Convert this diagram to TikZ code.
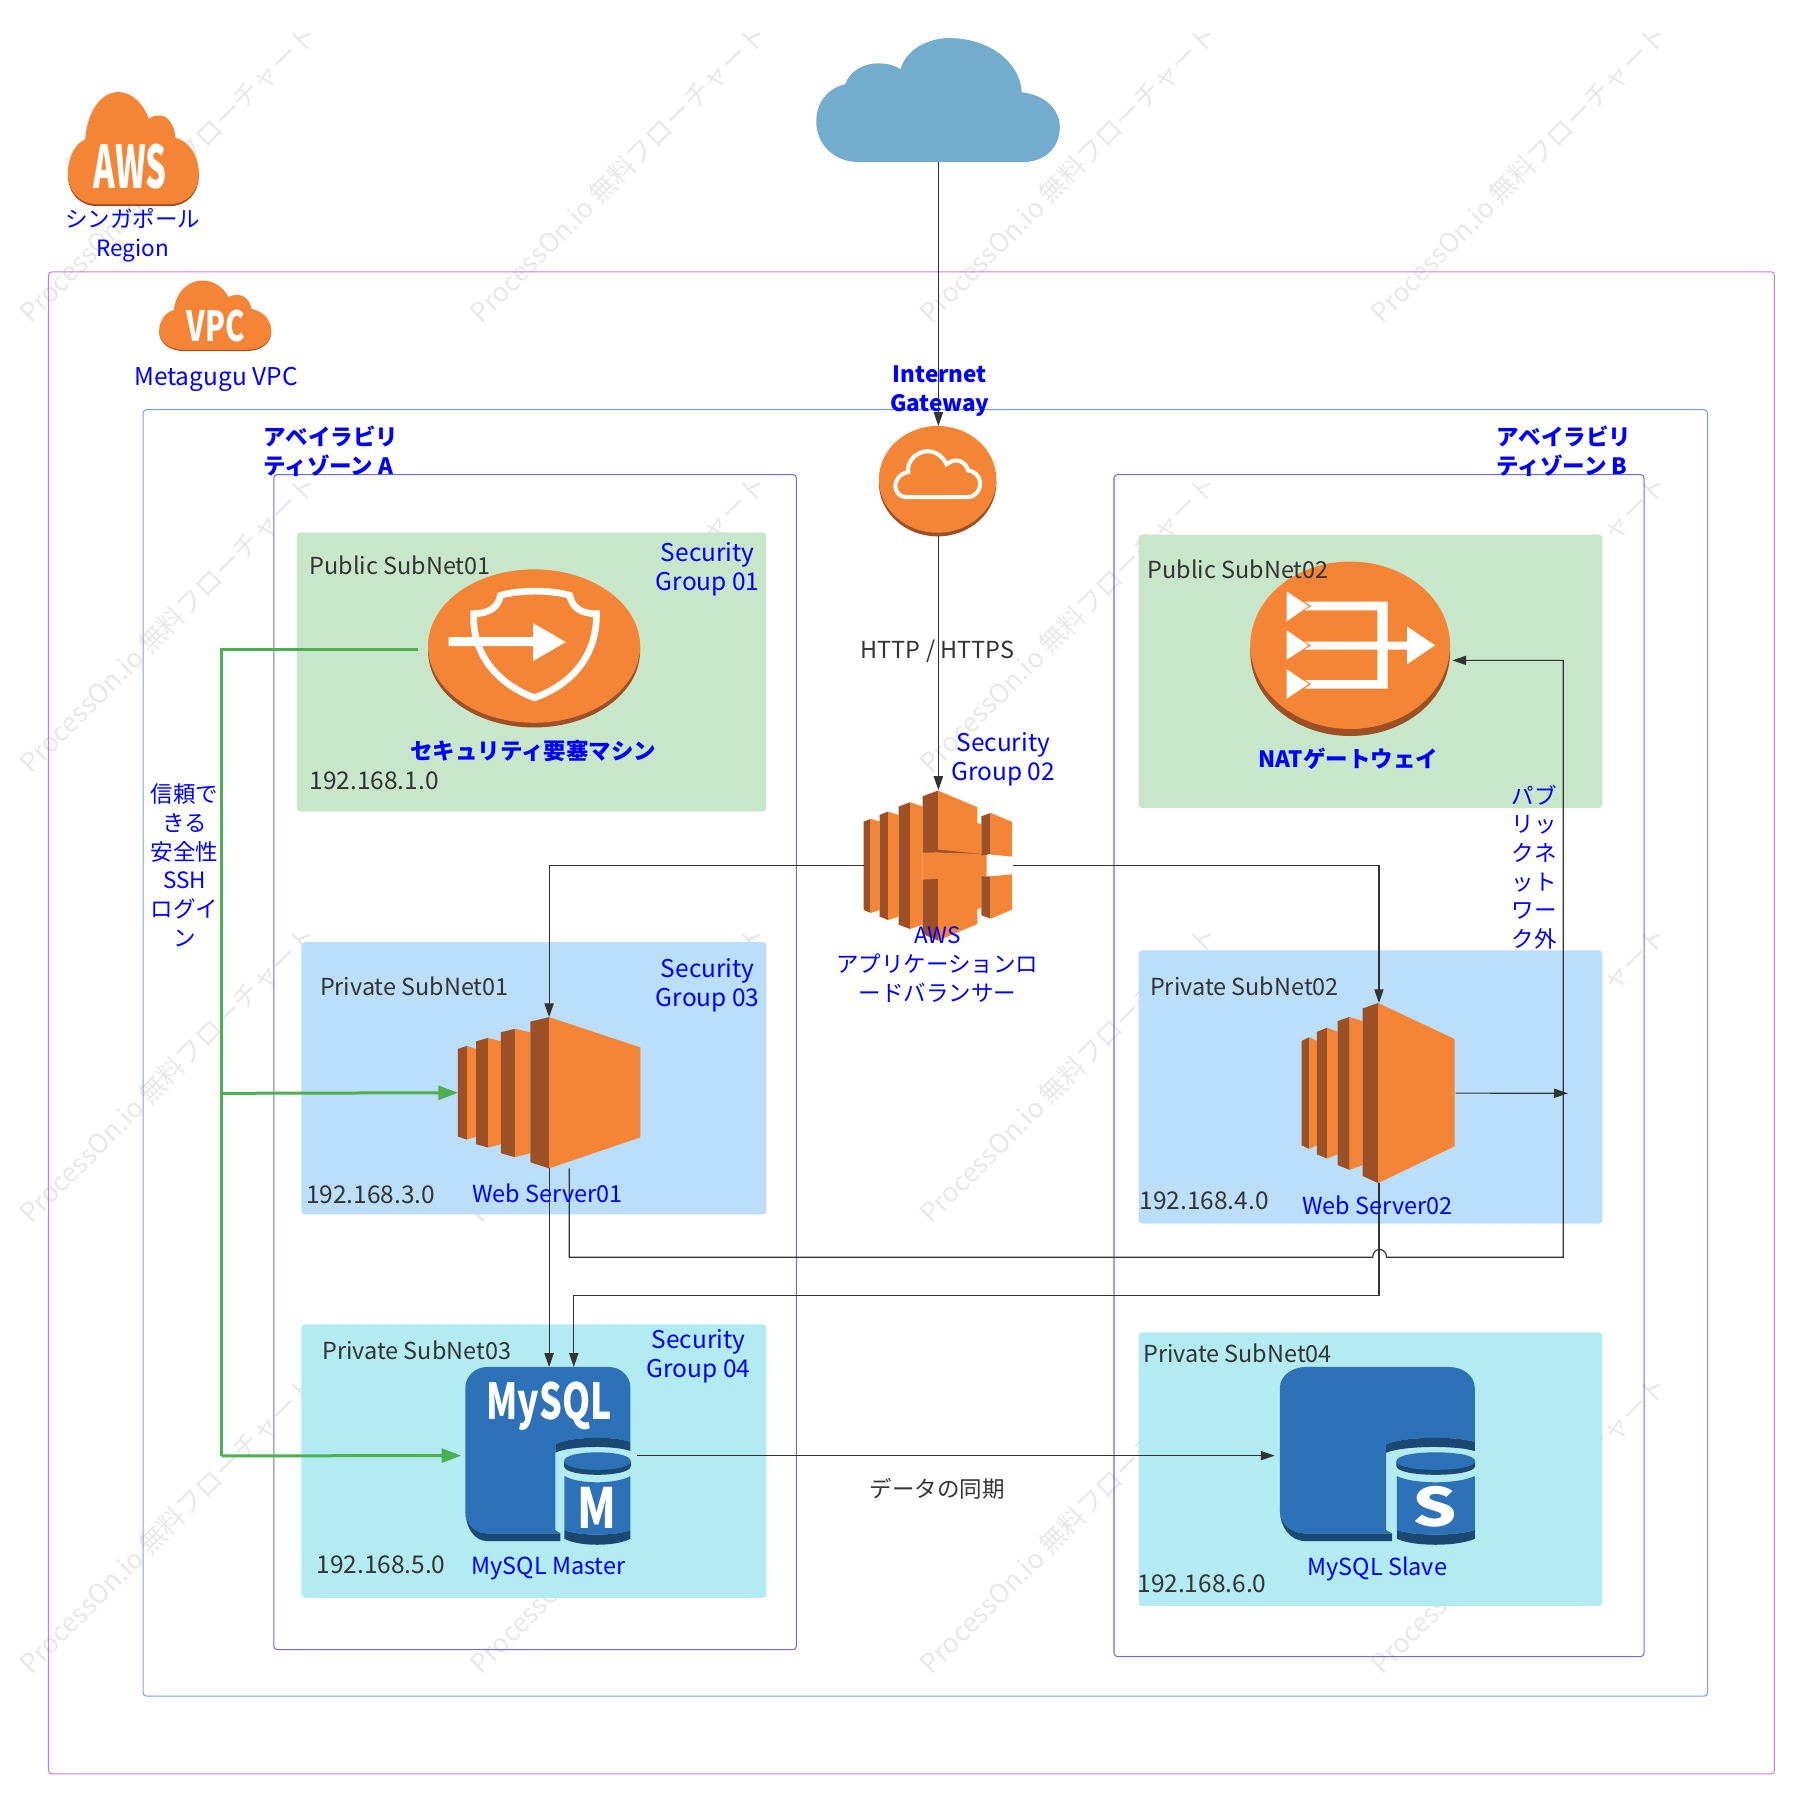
\documentclass[tikz,border=0pt]{standalone}
\usepackage{fontspec}
\usepackage{graphicx}
\setmainfont{Noto Sans CJK JP}
\usetikzlibrary{arrows.meta}

\definecolor{awsorange}{HTML}{F58536}
\definecolor{awsbrown}{HTML}{9D5025}
\definecolor{dbblue}{HTML}{2D72B8}
\definecolor{dbdark}{HTML}{1A4A73}
\definecolor{skyblue}{HTML}{74ACCE}
\definecolor{publicgreen}{HTML}{C8E6C9}
\definecolor{privateblue}{HTML}{BBDEFB}
\definecolor{privatecyan}{HTML}{B2EBF2}
\definecolor{inktext}{HTML}{333333}
\definecolor{trustgreen}{HTML}{4CAF50}
\definecolor{regionline}{HTML}{CB7BE0}
\definecolor{vpcline}{HTML}{7C9BE8}
\definecolor{zoneline}{HTML}{6C6CE8}

\tikzset{
  basefont/.style = {font=\fontsize{20.3}{24.8}\selectfont},
  widefont/.style = {font=\fontsize{21.2}{25.2}\selectfont},
  kanafont/.style = {font=\fontsize{19.5}{24.8}\selectfont},
  frame/.style = {rectangle, inner sep=0pt, outer sep=0pt, rounded corners=3pt, line width=0.9pt},
  zone/.style = {rectangle, inner sep=0pt, outer sep=0pt, rounded corners=3pt},
  iconbox/.style = {rectangle, inner sep=0pt, outer sep=0pt},
  bluetext/.style = {basefont, align=center, inner sep=0pt, text=blue},
  boldtext/.style = {bluetext, font=\fontsize{19.5}{24.8}\selectfont\bfseries},
  darktext/.style = {basefont, align=center, inner sep=0pt, text=inktext},
  logotext/.style = {inner sep=0pt, text=white, anchor=base},
  watermark/.style = {inner sep=0pt, anchor=west, rotate=45, text=black!9, font=\fontsize{23}{28}\selectfont},
  link/.style = {draw=inktext, line width=1pt, -{Triangle[length=12pt,width=8pt]}},
  trust/.style = {draw=trustgreen, line width=2.6pt},
  pics/ec2icon/.style = {code={
    \fill[awsbrown] (0,21) -- (5,19) -- (5,81) -- (0,79) -- cycle;
    \fill[awsorange] (5,19) -- (10,21) -- (10,79) -- (5,81) -- cycle;
    \fill[awsbrown] (10,16) -- (16.6,13.7) -- (16.6,86.3) -- (10,84) -- cycle;
    \fill[awsorange] (16.6,13.7) -- (23.6,16) -- (23.6,84) -- (16.6,86.3) -- cycle;
    \fill[awsbrown] (23.6,10) -- (31.3,7.7) -- (31.3,92.6) -- (23.6,90) -- cycle;
    \fill[awsorange] (31.3,7.7) -- (39.8,10) -- (39.8,90) -- (31.3,92.6) -- cycle;
    \fill[awsbrown] (39.8,3) -- (50,0) -- (50,100) -- (39.8,96) -- cycle;
    \fill[awsorange] (50,0) -- (100,20) -- (100,79.5) -- (50,100) -- cycle;
  }},
  pics/cloudicon/.style = {code={
    \foreach \shadecolor/\drop in {awsbrown/20,awsorange/0} {
      \fill[\shadecolor, yshift=\drop*-0.2889pt] (204,520) .. controls (204,470) and (225,430) .. (256,418)
        .. controls (260,340) and (300,276) .. (355,276) .. controls (395,276) and (430,310) .. (446,356)
        .. controls (460,345) and (475,345) .. (490,348) .. controls (510,355) and (525,385) .. (526,413)
        .. controls (570,425) and (596,470) .. (596,520) .. controls (596,575) and (560,612) .. (510,612)
        -- (290,612) .. controls (240,612) and (204,575) .. (204,520) -- cycle;
    }
  }},
  pics/dbicon/.style = {code={
    \fill[dbblue] (30,95) .. controls (30,60) and (60,33) .. (95,33) -- (460,33)
      .. controls (495,33) and (525,60) .. (525,95) -- (525,258)
      .. controls (480,240) and (345,240) .. (300,265) -- (300,522) -- (315,532) -- (95,532)
      .. controls (60,532) and (30,505) .. (30,465) -- cycle;
    \fill[dbdark] (300,265) .. controls (345,240) and (480,240) .. (525,258) -- (525,285)
      .. controls (480,268) and (345,268) .. (300,290) -- cycle;
    \fill[dbdark] (30,465) .. controls (30,505) and (60,532) .. (95,532) -- (315,532) -- (315,555)
      -- (95,555) .. controls (55,555) and (30,510) .. (30,465) -- cycle;
    \fill[dbdark] (326,315) -- (526,315) -- (526,330) .. controls (526,365) and (326,365) .. (326,330) -- cycle;
    \fill[dbblue] (326,315) .. controls (326,280) and (526,280) .. (526,315) .. controls (526,350) and (326,350) .. (326,315) -- cycle;
    \fill[dbblue] (327,360) .. controls (370,385) and (480,385) .. (525,360) -- (525,522)
      .. controls (480,540) and (370,540) .. (327,522) -- cycle;
    \fill[dbdark] (327,522) .. controls (370,540) and (480,540) .. (525,522) -- (525,548)
      .. controls (480,572) and (370,572) .. (327,548) -- cycle;
  }}
}

\begin{document}
\begin{tikzpicture}[x=1.0007pt, y=-1.0007pt]
\useasboundingbox (0pt,0pt) rectangle (1568pt,-1568pt);

\foreach \markx in {21,411,801,1191} {
  \foreach \marky in {275,665,1055,1445} {
    \node[watermark] (mark\markx\marky) at (\markx,\marky) {ProcessOn.io 無料フローチャート};
  }
}

\node[frame, draw=regionline, minimum width=1496pt, minimum height=1302pt] (regionbox) at (789.5,886) {};
\node[frame, draw=vpcline, minimum width=1356pt, minimum height=1115pt] (vpcbox) at (801.5,912) {};
\node[frame, draw=zoneline, minimum width=453pt, minimum height=1018.5pt] (zonea) at (463.5,920) {};
\node[frame, draw=zoneline, minimum width=459.5pt, minimum height=1024.5pt] (zoneb) at (1194.5,923) {};

\node[zone, fill=publicgreen, minimum width=407pt, minimum height=242pt] (public1) at (460.5,582) {};
\node[zone, fill=privateblue, minimum width=403pt, minimum height=236pt] (private1) at (462.5,934) {};
\node[zone, fill=privatecyan, minimum width=403pt, minimum height=237pt] (private3) at (462.5,1265.5) {};
\node[zone, fill=publicgreen, minimum width=402pt, minimum height=237pt] (public2) at (1187,581.5) {};
\node[zone, fill=privateblue, minimum width=402pt, minimum height=237pt] (private2) at (1187,941.5) {};
\node[zone, fill=privatecyan, minimum width=402pt, minimum height=237pt] (private4) at (1187,1272.5) {};

% icons, each with a named box for the connectors
\node[iconbox, minimum width=212pt, minimum height=107pt] (internet) at (812.8,87) {};
\fill[skyblue] (745,140.5) .. controls (722,140.5) and (707,125) .. (707,105) .. controls (707,88) and (718,76) .. (732,73)
  .. controls (736,62) and (748,54) .. (763,55) .. controls (770,55) and (775,57) .. (780,60)
  .. controls (785,42) and (805,33) .. (822,33) .. controls (858,33) and (884,55) .. (885,80)
  .. controls (905,82) and (918,95) .. (918,110) .. controls (918,128) and (905,140.5) .. (885,140.5) -- cycle;

\pic at (0,0) [scale=.2889] {cloudicon};
\node[logotext, font=\fontsize{51}{51}\selectfont\bfseries] (awsword) at (112.7,163.3) {\scalebox{.56}[1]{AWS}};
\pic at (87.5,193.7) [xscale=.2474, yscale=.1786] {cloudicon};
\node[logotext, font=\fontsize{36}{36}\selectfont\bfseries] (vpcword) at (187,296) {\scalebox{.7}[1]{VPC}};

\node[iconbox, minimum width=101.7pt, minimum height=95.6pt] (gateway) at (812.8,416.8) {};
\begin{scope}[shift={(745.4,355.4)}, scale=.2889]
  \fill[awsbrown] (231,218) ellipse [x radius=176, y radius=160];
  \fill[awsorange] (231,207) ellipse [x radius=176, y radius=160];
  \draw[white, line width=3.5pt] (135,260) -- (322,260) .. controls (345,260) and (360,238) .. (358,215)
    .. controls (356,195) and (340,182) .. (322,180) .. controls (318,160) and (290,135) .. (258,162)
    .. controls (240,125) and (205,118) .. (185,125) .. controls (155,135) and (140,160) .. (143,185)
    .. controls (118,190) and (103,210) .. (104,228) .. controls (105,245) and (118,260) .. (135,260) -- cycle;
\end{scope}

\node[iconbox, minimum width=184pt, minimum height=137pt] (bastion) at (462.7,561.7) {};
\begin{scope}[shift={(355.4,476.7)}, scale=.2889]
  \fill[awsbrown] (371,301) ellipse [x radius=318, y radius=230];
  \fill[awsorange] (371,287) ellipse [x radius=318, y radius=230];
  \draw[white, line width=5.8pt] (190,190) .. controls (235,190) and (265,170) .. (270,135)
    .. controls (330,118) and (420,118) .. (478,135) .. controls (485,170) and (510,190) .. (558,190)
    .. controls (560,310) and (490,400) .. (372,442) .. controls (260,400) and (185,310) .. (190,190) -- cycle;
  \fill[white] (115,260) -- (368,260) -- (368,218) -- (466,275) -- (368,332) -- (368,287) -- (115,287) -- cycle;
\end{scope}

\node[iconbox, minimum width=173pt, minimum height=151pt] (nat) at (1169.5,561.5) {};
\fill[awsbrown] (1169.5,565) ellipse [x radius=86.5, y radius=72.5];
\fill[awsorange] (1169.5,558.9) ellipse [x radius=86.5, y radius=72.5];
\fill[white] (1114.4,512.3) -- (1133.5,525) -- (1114.4,538.3) -- cycle;
\fill[white] (1114.4,546) -- (1133.5,559) -- (1114.4,571.5) -- cycle;
\fill[white] (1114.4,579.6) -- (1133.5,592.5) -- (1114.4,605.2) -- cycle;
\fill[white] (1130,521.2) -- (1202,521.2) -- (1202,555.7) -- (1218.7,555.7) -- (1218.7,542.6) -- (1243,559) -- (1218.7,575.3)
  -- (1218.7,562.6) -- (1202,562.6) -- (1202,596.4) -- (1130,596.4) -- (1136,592.5) -- (1130,589) -- (1193,589) -- (1193,562.6)
  -- (1130,562.6) -- (1136,559) -- (1130,555.7) -- (1193,555.7) -- (1193,528.6) -- (1130,528.6) -- (1136,525) -- cycle;

\node[iconbox, minimum width=129pt, minimum height=130pt] (balancer) at (812.8,749.3) {};
\begin{scope}[shift={(736.8,676.1)}, scale=.2889]
  \fill[awsbrown] (39,123) -- (60,115) -- (60,397) -- (39,388) -- cycle;
  \fill[awsorange] (60,115) -- (87,122) -- (87,388) -- (60,397) -- cycle;
  \fill[awsbrown] (87,103) -- (112,93) -- (112,418) -- (87,408) -- cycle;
  \fill[awsorange] (112,93) -- (144,103) -- (144,408) -- (112,418) -- cycle;
  \fill[awsbrown] (144,78) -- (178,65) -- (178,445) -- (144,432) -- cycle;
  \fill[awsorange] (178,65) -- (216,78) -- (216,432) -- (178,445) -- cycle;
  \fill[awsbrown] (216,47) -- (262,30) -- (262,216) -- (216,218) -- cycle;
  \fill[awsorange] (262,30) -- (380,80) -- (380,128) -- (392,130) -- (392,225) -- (262,210) -- cycle;
  \fill[awsbrown] (262,207) -- (392,220) -- (262,218) -- cycle;
  \fill[awsorange] (216,216) -- (262,216) -- (392,220) -- (408,222) -- (408,285) -- (392,292) -- (216,300) -- cycle;
  \fill[awsbrown] (216,297) -- (262,295) -- (262,480) -- (216,460) -- cycle;
  \fill[awsorange] (262,293) -- (392,288) -- (392,382) -- (380,385) -- (380,430) -- (262,480) -- cycle;
  \fill[awsbrown] (392,107) -- (420,97) -- (420,220) -- (392,225) -- cycle;
  \fill[awsorange] (420,97) -- (484,124) -- (484,228) -- (420,222) -- cycle;
  \fill[awsbrown] (392,287) -- (420,287) -- (420,414) -- (392,404) -- cycle;
  \fill[awsorange] (420,287) -- (484,281) -- (484,387) -- (420,414) -- cycle;
\end{scope}

\node[iconbox, minimum width=158pt, minimum height=131pt] (web1) at (475.6,946.5) {};
\pic at (396.6,881) [xscale=1.58, yscale=1.31] {ec2icon};
\node[iconbox, minimum width=133pt, minimum height=156pt] (web2) at (1194.4,946.8) {};
\pic at (1127.4,868.8) [xscale=1.326, yscale=1.56] {ec2icon};

\node[iconbox, minimum width=143pt, minimum height=153.6pt] (master) at (475.6,1260.8) {};
\pic at (394.4,1174.5) [scale=.2889] {dbicon};
\node[logotext, font=\fontsize{43}{43}\selectfont\bfseries] (mysqlword) at (475.6,1229.5) {\scalebox{.72}[1]{MySQL}};
\node[logotext, font=\fontsize{48}{48}\selectfont\bfseries] (masterword) at (517,1324) {\scalebox{.8}[1]{M}};
\node[iconbox, minimum width=169pt, minimum height=153.6pt] (slave) at (1193.1,1260.8) {};
\pic at (1098.4,1174.5) [xscale=.3409, yscale=.2889] {dbicon};
\node[logotext, font=\fontsize{46}{46}\selectfont\bfseries] (slaveword) at (1243,1322) {\scalebox{1.32}[1]{S}};

% connector ends that do not sit on a box anchor
\coordinate (web1out) at (493,1012);
\coordinate (masterin) at (497,1184);
\coordinate (natin) at (1258,572);
\coordinate (web2out) at (1358,947);
\coordinate (trunktop) at (192,563);
\coordinate (trunkmid) at (192,947);
\coordinate (trunkend) at (192,1261);

\draw[link] (internet.south) -- (gateway.north);
\draw[link] (gateway.south) -- (balancer.north);
\draw[link] (balancer.west) -| (web1.north);
\draw[link] (balancer.east) -| (web2.north);
\draw[link] (web1.south) -- (master.north);
\draw[link] (web2.south) |- (1000,1122) -| (masterin);
\draw[link] (web1out) -- (493,1089) -- (1189,1089) .. controls (1189,1080) and (1201,1080) .. (1201,1089)
  -- (1354,1089) -- (1354,572) -- (natin);
\draw[link] (web2.east) -- (web2out);
\draw[link, shorten <=5pt, shorten >=4.6pt] (master.east) -- (slave.west);

\draw[trust, shorten <=8.7pt] (bastion.west |- trunktop) -- (trunktop) -- (trunkend);
\draw[trust, -{Triangle[length=17pt,width=12pt]}] (trunkmid) -- (web1.west);
\draw[trust, -{Triangle[length=17pt,width=12pt]}, shorten >=4.6pt] (trunkend) -- (master.west);

% labels
\node[bluetext, kanafont] (regionlabel) at (115,204) {シンガポール\\Region};
\node[bluetext, widefont] (vpclabel) at (187,329) {Metagugu VPC};
\node[boldtext] (gatewaylabel) at (814,339) {Internet\\Gateway};
\node[boldtext, align=left, anchor=west] (zonealabel) at (228,391) {アベイラビリ\\ティゾーン A};
\node[boldtext, align=left, anchor=west] (zoneblabel) at (1296,391) {アベイラビリ\\ティゾーン B};

\node[darktext, anchor=west] (public1label) at (268,489.5) {Public SubNet01};
\node[bluetext, widefont] (group1) at (613,493.5) {Security\\Group 01};
\node[boldtext] (bastionlabel) at (462,650.5) {セキュリティ要塞マシン};
\node[darktext, widefont, anchor=west] (public1ip) at (268,676.5) {192.168.1.0};

\node[darktext, anchor=west] (private1label) at (277,854.5) {Private SubNet01};
\node[bluetext, widefont] (group3) at (613,853.5) {Security\\Group 03};
\node[darktext, widefont, anchor=west] (private1ip) at (265,1035) {192.168.3.0};
\node[bluetext] (web1label) at (474,1033.5) {Web Server01};

\node[darktext, anchor=west] (private3label) at (279,1170) {Private SubNet03};
\node[bluetext, widefont] (group4) at (605,1175) {Security\\Group 04};
\node[darktext, widefont, anchor=west] (private3ip) at (274,1355.5) {192.168.5.0};
\node[bluetext] (masterlabel) at (475,1359) {MySQL Master};

\node[darktext, anchor=west] (public2label) at (994,493.5) {Public SubNet02};
\node[boldtext] (natlabel) at (1168,657.5) {NATゲートウェイ};
\node[darktext, anchor=west] (private2label) at (996,854.5) {Private SubNet02};
\node[darktext, widefont, anchor=west] (private2ip) at (987,1040) {192.168.4.0};
\node[bluetext] (web2label) at (1193,1044) {Web Server02};
\node[darktext, anchor=west] (private4label) at (990,1172.5) {Private SubNet04};
\node[darktext, widefont, anchor=west] (private4ip) at (985,1372) {192.168.6.0};
\node[bluetext] (slavelabel) at (1193,1359) {MySQL Slave};

\node[darktext] (httplabel) at (812,564) {HTTP / HTTPS};
\node[bluetext, widefont] (group2) at (869,658) {Security\\Group 02};
\node[bluetext, kanafont] (balancerlabel) at (812,835.5) {AWS\\アプリケーションロ\\ードバランサー};
\node[darktext, kanafont] (synclabel) at (812,1289.5) {データの同期};
\node[bluetext, kanafont] (trustlabel) at (160,749.5) {信頼で\\きる\\安全性\\SSH\\ログイ\\ン};
\node[bluetext, kanafont] (publicnetlabel) at (1329,751) {パブ\\リッ\\クネ\\ット\\ワー\\ク外};
\end{tikzpicture}
\end{document}
